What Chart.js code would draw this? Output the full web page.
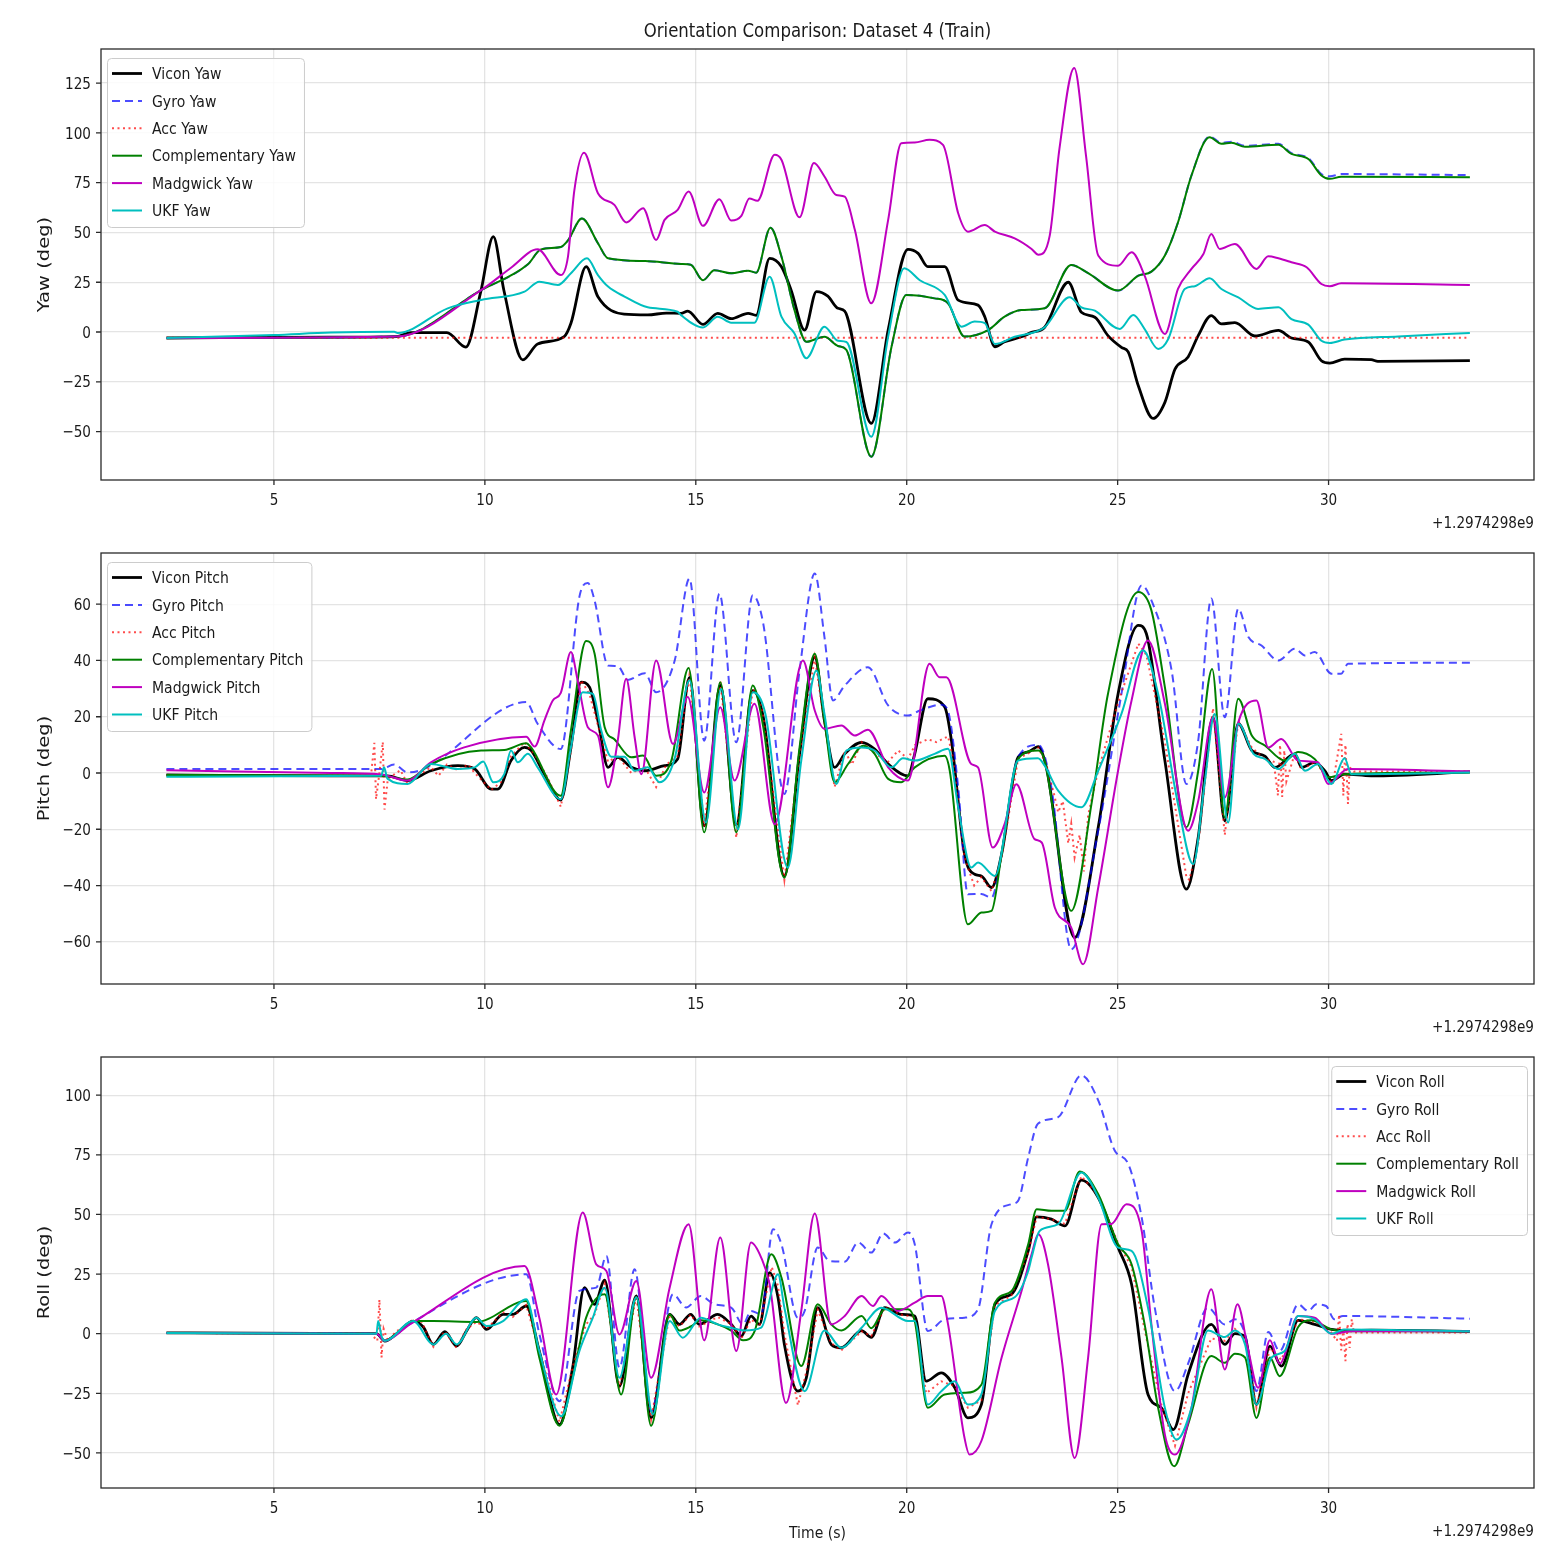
<!DOCTYPE html>
<html>
<head>
<meta charset="utf-8">
<title>Orientation Comparison: Dataset 4 (Train)</title>
<script src="https://cdn.jsdelivr.net/npm/chart.js@4.4.1/dist/chart.umd.min.js"></script>
<style>
  body { margin: 0; background: #fff; width: 1560px; height: 1560px; position: relative; overflow: hidden; }
  canvas { position: absolute; left: 0; }
</style>
</head>
<body>
<canvas id="yawChart" width="1560" height="540" style="top:0px"></canvas>
<canvas id="pitchChart" width="1560" height="540" style="top:504px"></canvas>
<canvas id="rollChart" width="1560" height="540" style="top:1008px"></canvas>
<script>
// axis ticks and labels (time is shown as an offset from 1.2974298e9 s)
const xTicks = [5, 10, 15, 20, 25, 30];
const yawTicks = [-50, -25, 0, 25, 50, 75, 100, 125];
const pitchTicks = [-60, -40, -20, 0, 20, 40, 60];
const rollTicks = [-50, -25, 0, 25, 50, 75, 100];
const timeOffsetLabel = '+1.2974298e9';
const seriesNames = ['Vicon', 'Gyro', 'Acc', 'Complementary', 'Madgwick', 'UKF'];

// ---- Yaw [time, deg]
const yawVicon = [[2.45,-3],[6.3,-2.6],[7.9,-2.3],[8.25,-0.3],[9.1,-0.3],[9.55,-7.6],[9.9,20],[10.2,47.9],[10.45,21],[10.9,-14],[11.25,-6],[11.88,-2.3],[12.04,4.4],[12.4,32.8],[12.68,17.7],[13.3,9],[13.86,8.6],[14.3,9.5],[14.65,9.4],[14.81,10.5],[15.17,3.8],[15.52,9.4],[15.84,6.7],[16.24,9.4],[16.43,8.4],[16.75,37],[17.03,32.8],[17.26,21],[17.58,1],[17.86,20.3],[18.13,18],[18.37,11.9],[18.53,10.5],[19.16,-45.9],[19.56,1],[20.03,41.5],[20.27,39.5],[20.5,32.8],[20.9,32.8],[21.22,16],[21.69,13.5],[21.85,7.7],[22.09,-7.4],[22.32,-4.9],[22.72,-2.4],[22.96,-0.2],[23.27,2.4],[23.83,25],[24.14,9.9],[24.46,7.4],[24.77,-1.8],[25.09,-7.7],[25.25,-10],[25.49,-27],[25.84,-43.4],[26.12,-35.3],[26.36,-18.6],[26.67,-12.5],[26.91,-1.8],[27.22,8.2],[27.46,4.1],[27.78,4.7],[28.25,-2],[28.81,0.8],[29.12,-3],[29.52,-5],[29.83,-14.4],[30.03,-15.6],[30.38,-13.6],[31.01,-13.9],[31.17,-14.7],[33.35,-14.4]];
const yawGyro = [[2.45,-3],[7.9,-2.3],[9.91,21],[11.02,34],[11.33,41.5],[11.8,42.7],[11.97,46],[12.3,57],[12.68,44.6],[12.92,37],[13.8,35.6],[14.65,34.2],[14.88,33.8],[15.17,26],[15.44,31],[15.84,29.5],[16.24,30.8],[16.43,29.8],[16.77,52.4],[17.03,37.9],[17.34,11],[17.62,-4.9],[18.05,-2.4],[18.37,-7],[18.57,-9],[19.16,-62.6],[19.64,-7.4],[19.99,18.6],[20.66,16.9],[20.98,14.4],[21.37,-2.3],[21.93,1],[22.32,7.7],[22.72,11],[23.27,11.9],[23.9,33.7],[24.3,29.6],[25.01,20.8],[25.49,28.3],[25.8,30.3],[26.12,38.4],[26.43,55],[26.75,78.6],[27.18,98.2],[27.46,95],[27.7,95.5],[28.02,93.5],[28.81,94.5],[29.12,89.8],[29.52,87.3],[29.83,79.3],[30.03,78.2],[30.3,79.3],[33.35,78.8]];
const yawAcc = [[2.45,-2.9],[33.35,-2.9]];
const yawComp = [[2.45,-3],[7.9,-2.3],[9.91,21],[11.02,34],[11.33,41.5],[11.8,42.7],[11.97,46],[12.3,57],[12.68,44.6],[12.92,37],[13.8,35.6],[14.65,34.2],[14.88,33.8],[15.17,26],[15.44,31],[15.84,29.5],[16.24,30.8],[16.43,29.8],[16.77,52.4],[17.03,37.9],[17.34,11],[17.62,-4.9],[18.05,-2.4],[18.37,-7],[18.57,-9],[19.16,-62.6],[19.64,-7.4],[19.99,18.6],[20.66,16.9],[20.98,14.4],[21.37,-2.3],[21.93,1],[22.32,7.7],[22.72,11],[23.27,11.9],[23.9,33.7],[24.3,29.6],[25.01,20.8],[25.49,28.3],[25.8,30.3],[26.12,38.4],[26.43,55],[26.75,78.6],[27.18,97.8],[27.46,94.5],[27.7,95],[28.02,93],[28.81,94],[29.12,89.4],[29.52,86.9],[29.83,78.6],[30.03,76.9],[30.3,77.9],[33.35,77.7]];
const yawMadg = [[2.45,-3],[7.9,-2.3],[9.91,21],[10.62,32.3],[11.25,41.5],[11.8,28.6],[11.97,37.9],[12.12,71],[12.35,90],[12.68,69.7],[13.07,63.8],[13.35,55],[13.75,62.2],[14.06,46.2],[14.26,56.3],[14.57,61.3],[14.83,70.5],[15.17,53.3],[15.56,66.7],[15.84,56],[16.08,58.3],[16.27,67.1],[16.46,65.9],[16.87,89],[17.03,86.5],[17.46,57.6],[17.8,84.8],[18.05,78.1],[18.33,68.8],[18.53,68],[18.77,51.3],[19.16,14.4],[19.56,56.3],[19.87,94.8],[20.19,95.2],[20.54,96.5],[20.86,94],[21.22,59.6],[21.45,50.4],[21.85,53.7],[22.09,50.4],[22.56,47],[22.96,41.7],[23.12,38.8],[23.39,48.4],[23.62,92],[23.97,132.5],[24.25,88.6],[24.54,38.4],[25.01,33.3],[25.33,40],[25.64,28.3],[26.12,-1],[26.43,21.6],[26.75,31.7],[27.03,39],[27.22,49.2],[27.42,41.7],[27.78,44.2],[28.29,31.7],[28.57,38],[28.81,37],[29.12,35],[29.48,32.5],[29.83,24.1],[30.03,23],[30.3,24.5],[33.35,23.6]];
const yawUkf = [[2.45,-3],[5,-1.5],[6.35,-0.3],[7.85,0.1],[7.93,-0.5],[9.12,11.9],[9.91,16.1],[10.94,20.3],[11.29,25.3],[11.73,23.6],[12.04,29.5],[12.42,37],[12.68,28.6],[12.92,22.8],[13.31,17.8],[13.86,12.4],[14.57,10.2],[14.65,8.5],[15.17,2.3],[15.52,7.7],[15.84,4.7],[16.39,4.7],[16.75,27.8],[17.03,7.7],[17.34,-0.7],[17.62,-13.2],[18.05,2.7],[18.37,-4.4],[18.57,-5],[19.16,-52.6],[19.56,-2.3],[19.94,32],[20.31,26],[20.9,18.6],[21.3,2.7],[21.61,5.3],[21.85,4.5],[22.09,-6],[22.56,-2.4],[22.96,-0.5],[23.27,2.4],[23.86,17.4],[24.14,12.4],[24.46,10.7],[25.05,1.5],[25.37,8.5],[25.64,1.5],[25.96,-8.5],[26.2,-3.5],[26.59,21.6],[26.83,23],[27.18,27],[27.46,21.6],[27.86,17.4],[28.33,11.6],[28.81,12.4],[29.12,6.5],[29.52,3.7],[29.83,-4.4],[30.03,-5.5],[30.38,-3.8],[31.65,-2.2],[33.35,-0.5]];

// ---- Pitch [time, deg]
const pitchVicon = [[2.45,-0.7],[6.35,-1],[7.69,-1],[8.17,-2.7],[8.72,0.8],[9.36,2.6],[9.76,1.4],[10.15,-5.7],[10.31,-5.7],[10.62,4.4],[10.94,9.1],[11.1,8],[11.41,-0.4],[11.8,-9.6],[12.04,9.1],[12.28,32.3],[12.48,30.5],[12.68,18.6],[12.92,2],[13.15,5.6],[13.47,2],[13.79,0.8],[14.26,2.6],[14.57,5],[14.85,34],[15.2,-18.8],[15.58,31.1],[15.96,-18.4],[16.35,29.3],[16.6,19.8],[17.1,-36.6],[17.46,6.8],[17.82,41.2],[18.05,18.6],[18.29,2],[18.53,6.8],[18.93,10.9],[19.24,8.5],[19.56,3.2],[20.03,-1],[20.19,6.8],[20.5,26.4],[20.9,23.5],[21.06,11.5],[21.37,-28.8],[21.61,-36],[21.77,-36.6],[22.01,-40.7],[22.25,-28.8],[22.64,5.6],[22.88,7.5],[23.12,9.4],[23.31,2],[23.98,-58.5],[24.54,-19.3],[25.01,28.1],[25.49,52.5],[25.68,49.6],[26.12,4.4],[26.63,-41.3],[26.91,-22.9],[27.26,19.8],[27.54,-17],[27.86,17.5],[28.18,8],[28.49,6],[28.73,2],[29.2,6.8],[29.36,2],[29.67,3.8],[29.91,0.8],[30.07,-2.7],[30.38,-0.4],[31.01,-1],[33.35,0.4]];
const pitchGyro = [[2.45,1.4],[7.54,1.4],[7.85,3],[8.17,0.2],[10.98,25.2],[11.25,17.5],[11.8,8.5],[12.24,62.6],[12.44,67.5],[12.6,61.4],[12.92,38.2],[13.15,38],[13.39,33.1],[13.79,35.5],[14.06,28.7],[14.5,40],[14.85,69.1],[15.2,11.5],[15.56,63.7],[15.96,10.9],[16.35,63.2],[16.6,53],[17.1,-7.5],[17.46,36.4],[17.82,70.9],[18.05,48.3],[18.25,25.8],[18.53,31.1],[19.08,37.6],[19.56,24],[20.03,20.4],[20.31,22.2],[20.82,24.3],[20.98,22],[21.22,-5.1],[21.45,-43.1],[21.77,-43],[22.01,-44.3],[22.25,-28.8],[22.64,5.6],[23.12,10],[23.43,-5.1],[23.9,-62.7],[24.54,-20.5],[25.09,28.1],[25.57,66.7],[25.8,61.4],[26.28,36.4],[26.63,-3.9],[26.91,11.5],[27.22,62],[27.54,19.8],[27.86,58.4],[28.1,48.3],[28.41,45.3],[28.81,40],[29.2,44.2],[29.44,41.8],[29.67,43],[30.07,35.3],[30.3,35.3],[30.46,38.8],[33.35,39.2]];
const pitchAcc = [[2.45,-1],[7.3,-1],[7.38,10.7],[7.42,-9.3],[7.5,0],[7.58,11],[7.62,-13],[7.7,-2],[8.0,1],[8.17,-4],[8.4,-1],[8.72,2],[8.9,-1],[9.1,3],[9.36,1],[9.6,3],[9.76,0],[10.15,-6],[10.4,-3],[10.62,6],[10.94,11],[11.2,6],[11.5,-2],[11.8,-12],[12.04,8],[12.28,33],[12.48,28],[12.68,17],[12.92,4],[13.15,6],[13.47,0],[13.79,2],[14.06,-5],[14.3,3],[14.57,6],[14.85,35],[15.2,-19],[15.58,33],[15.96,-23],[16.35,30],[16.5,27],[16.6,20],[17.1,-38],[17.46,6],[17.82,41],[18.05,18],[18.29,-5],[18.53,8],[18.7,3],[18.93,11],[19.24,7],[19.56,4],[19.8,8],[20.03,5],[20.2,10],[20.5,12],[20.7,11],[20.98,13],[21.1,5],[21.37,-30],[21.6,-40],[21.77,-37],[22.01,-42],[22.25,-30],[22.64,5],[22.88,7],[23.12,9],[23.31,3],[23.5,-8],[23.59,-14],[23.7,-10],[23.83,-25],[23.9,-18],[23.98,-30],[24.1,-22],[24.2,-35],[24.3,-15],[24.54,1],[25.01,25],[25.49,46],[25.68,42],[26.12,11],[26.63,-37],[26.7,-38],[26.91,-25],[27.26,23],[27.54,-22],[27.86,18.6],[28.18,9],[28.49,5],[28.7,4],[28.8,-8],[28.85,10],[28.9,-8.5],[28.95,8],[29.0,-3],[29.2,7],[29.36,1],[29.67,4],[29.9,0],[30.1,-4],[30.3,13.9],[30.35,-8],[30.4,10],[30.46,-11],[30.5,2],[30.6,0.5],[33.35,0.5]];
const pitchComp = [[2.45,-0.7],[7.54,-1],[8.17,-2.3],[8.72,3.2],[9.91,8],[10.46,8.2],[10.98,10.6],[11.1,9],[11.8,-8.1],[12.04,15.1],[12.4,46.9],[12.6,42.5],[12.84,16.3],[13.07,12],[13.47,5.6],[13.75,6.2],[14.06,-1],[14.42,4.4],[14.83,37.3],[15.2,-21.1],[15.58,32.3],[15.96,-21.1],[16.35,31.1],[16.6,16.3],[17.1,-37.2],[17.46,9.1],[17.82,42.4],[18.05,18.6],[18.29,-3.3],[18.61,3.2],[18.97,9.7],[19.24,6.8],[19.56,-2.1],[19.87,-3.3],[20.19,2],[20.9,6.1],[21.02,0.8],[21.45,-53.8],[21.77,-49.6],[22.01,-49],[22.25,-28.8],[22.64,5],[23.12,8],[23.27,4.4],[23.9,-49],[24.38,-11],[24.77,28.1],[25.49,64.3],[25.8,57.8],[26.12,30.5],[26.63,-19.3],[26.91,0.8],[27.24,37],[27.54,-15.8],[27.86,26.4],[28.18,13.3],[28.49,9.8],[28.96,4.4],[29.28,7.5],[29.67,5],[29.99,-1.5],[30.38,-0.4],[33.35,0.2]];
const pitchMadg = [[2.45,1],[6.35,0],[7.54,-0.5],[8.17,-2.7],[8.72,3.8],[9.51,9.1],[10.98,12.9],[11.18,9.4],[11.41,18.6],[11.61,25.8],[11.8,28.5],[12.04,43],[12.2,32.9],[12.44,16.3],[12.68,13.3],[12.92,-5.1],[13.15,11.5],[13.35,33.5],[13.55,12.7],[13.71,-0.4],[14.06,40],[14.46,10.3],[14.81,27],[15.2,-6.9],[15.58,23.4],[15.92,-2.7],[16.39,24.6],[16.87,-18.2],[17.54,40],[17.82,22.2],[18.05,15.7],[18.45,16.9],[18.77,13.3],[19.08,15.4],[19.56,2],[20.03,-2.7],[20.54,38.8],[20.78,34],[20.94,34],[21.53,3.2],[21.69,2],[22.04,-26.5],[22.32,-18.2],[22.6,-4],[23.03,-23.5],[23.2,-24.7],[23.51,-47.8],[23.9,-55],[24.18,-68],[24.54,-40.7],[25.01,0.8],[25.33,25.8],[25.72,47.1],[26.12,24.6],[26.67,-20.5],[26.91,-10],[27.26,19.8],[27.54,-8.7],[27.86,18],[28.29,25.8],[28.57,9.1],[28.88,12.1],[29.28,4.4],[29.75,3.8],[29.99,-3.9],[30.46,1.4],[33.35,0.6]];
const pitchUkf = [[2.45,-1.3],[7.54,-1],[7.61,2],[7.69,-2],[8.17,-3.9],[8.72,3.2],[9.36,1.4],[9.76,2],[9.96,4.1],[10.2,-3.3],[10.46,-0.4],[10.62,8],[10.78,3.8],[11.02,6.8],[11.25,2],[11.8,-9.3],[12.04,9.1],[12.32,28.7],[12.56,28.1],[12.76,15],[13,5.8],[13.31,5.8],[13.55,0.8],[13.86,2],[14.14,-3.3],[14.5,5.2],[14.85,33],[15.24,-17.6],[15.6,29.9],[16,-20],[16.35,28.7],[16.65,21],[17.18,-33.6],[17.5,4.4],[17.86,36.4],[18.05,21],[18.33,-3.9],[18.57,8],[18.93,9.1],[19.24,8],[19.64,2],[19.91,5.2],[20.19,4.4],[20.66,6.8],[20.98,8.6],[21.22,-12.2],[21.53,-33.6],[21.69,-31.8],[22.09,-36.6],[22.64,4.4],[23.11,5.2],[23.27,2.6],[23.59,-6.3],[24.14,-12.2],[24.54,0.8],[25.09,21],[25.6,43.6],[25.96,28.1],[26.43,-11],[26.79,-32.4],[27.06,-3.9],[27.3,21],[27.62,-17.6],[27.86,17.5],[28.22,6.8],[28.49,5],[28.81,1.4],[29.2,6.8],[29.44,0.8],[29.75,3.2],[30.07,-3.9],[30.38,5.2],[30.54,-0.4],[33.35,0.2]];

// ---- Roll [time, deg]
const rollVicon = [[2.45,0.3],[7.43,0],[7.63,-3.1],[7.91,0],[8.3,5.3],[8.54,2.8],[8.78,-4.5],[9.05,0.8],[9.33,-5.2],[9.57,1.3],[9.8,6.7],[10.04,1.8],[10.43,8.1],[10.66,8.1],[10.98,11.6],[11.29,-7.3],[11.77,-38.1],[12.08,-14.3],[12.36,19.3],[12.6,12.3],[12.84,22.4],[13.19,-22],[13.59,15.8],[13.94,-35.3],[14.38,8.1],[14.61,3.9],[14.88,8.1],[15.08,3.9],[15.52,8.1],[15.84,3.9],[16.08,-1],[16.31,7.4],[16.51,3.9],[16.75,25.6],[16.95,15.1],[17.1,-4.5],[17.42,-24.1],[17.62,-18.5],[17.89,10.9],[18.21,-4.5],[18.45,-5.9],[18.93,1.3],[19.16,-1.5],[19.48,10.9],[19.87,8.1],[20.19,7.4],[20.46,-19.9],[20.82,-16.4],[21.14,-22.7],[21.45,-35.3],[21.77,-29.7],[22.09,12.3],[22.48,16.5],[22.88,34.7],[23.08,49],[23.43,48],[23.75,45.2],[24.14,64.4],[24.54,57.1],[25.01,36.1],[25.33,20.7],[25.72,-25.5],[26.04,-31.1],[26.32,-40.2],[26.67,-17.1],[27.22,3.9],[27.54,-4.5],[27.78,0],[28.02,-1.4],[28.29,-29.7],[28.61,-5.2],[28.88,-13.6],[29.28,5.6],[29.67,3.9],[30.07,1.8],[30.54,1.3],[31.01,1.5],[33.35,1]];
const rollGyro = [[2.45,0.3],[7.43,0],[7.63,-3],[7.91,0],[8.3,5],[10.98,24.9],[11.29,0],[11.77,-28.3],[12.24,17.9],[12.64,19.3],[12.88,32.6],[13.19,-14.3],[13.55,27],[13.94,-32.5],[14.46,16.5],[14.77,11],[15.12,15.8],[15.44,12.3],[15.84,10.9],[16.12,3.9],[16.31,9.5],[16.55,8.1],[16.83,43.8],[17.03,37.5],[17.42,6.7],[17.58,9.5],[17.89,36.1],[18.17,30.5],[18.53,30.2],[18.85,38.2],[19.16,34],[19.44,42],[19.72,38.2],[20.03,42.4],[20.19,37.5],[20.5,1.1],[20.9,6],[21.37,6.7],[21.69,10.2],[22.01,45.9],[22.48,54.3],[22.64,55.7],[22.88,73.9],[23.11,88],[23.59,90.8],[24.14,108.3],[24.54,97.8],[24.93,76.8],[25.25,71.2],[25.57,48.7],[25.88,10.9],[26.36,-24.1],[26.67,-12.6],[27.14,10.9],[27.54,3.9],[27.78,6],[28.02,0],[28.29,-24.1],[28.57,0.7],[28.84,-7.3],[29.28,12.3],[29.52,9.5],[29.71,12.3],[29.94,11.6],[30.14,6],[30.34,7.4],[33.35,6.3]];
const rollAcc = [[2.45,0.3],[7.3,0],[7.45,-3],[7.5,14.3],[7.55,-10],[7.6,2],[7.7,-3],[7.9,1],[8.1,3],[8.3,6],[8.5,5],[8.78,-5.5],[9.05,1],[9.33,-6],[9.57,2],[9.8,5],[10.04,2],[10.43,9],[10.66,7],[10.98,12],[11.29,-7],[11.77,-37],[12.08,-14],[12.2,-7],[12.4,4],[12.6,8],[12.84,21],[13.19,-23],[13.59,16],[13.94,-36],[14.38,8],[14.61,3],[14.88,8],[15.08,3],[15.52,7],[15.84,4],[16.08,-2],[16.31,6],[16.51,3],[16.8,28],[16.95,20],[17.1,0],[17.42,-30],[17.62,-16],[17.89,10],[18.21,-4],[18.45,-7],[18.93,1],[19.16,-1],[19.48,11],[19.87,8],[20.19,7],[20.46,-25],[20.82,-20],[21.14,-22],[21.45,-31],[21.77,-28],[22.09,12],[22.48,16],[22.88,34],[23.08,49],[23.43,48],[23.75,46],[24.14,66],[24.54,58],[25.01,38],[25.33,28],[25.72,-5],[26.04,-30],[26.36,-47],[26.67,-25],[27.22,-2],[27.54,-3],[27.78,2],[28.02,-2],[28.29,-31],[28.61,-6],[28.88,-11],[29.28,6],[29.67,5],[30.0,2],[30.2,-3],[30.25,8],[30.3,-7],[30.35,2],[30.4,-11.5],[30.45,4],[30.5,-6],[30.55,6],[30.6,0.5],[33.35,0.5]];
const rollComp = [[2.45,0.3],[7.43,0],[7.63,-3],[7.91,0],[8.3,5.3],[8.78,5.3],[9.8,4.9],[10.98,13.7],[11.29,-10],[11.77,-38.6],[12.08,-18.5],[12.4,6.7],[12.84,16.5],[13.23,-25.5],[13.59,15.3],[13.94,-38.6],[14.38,8.1],[14.61,1.3],[14.88,3],[15.12,5.6],[15.52,3.9],[15.84,1.3],[16.12,-2.8],[16.4,1.3],[16.79,33.3],[17.03,23.5],[17.5,-13.6],[17.89,12.3],[18.21,3.9],[18.45,1.3],[18.93,7.4],[19.16,2.3],[19.48,10.2],[20.03,10.2],[20.19,5.3],[20.5,-31.1],[20.9,-25.5],[21.37,-24.8],[21.77,-21.4],[22.09,13],[22.48,17.8],[22.88,37.5],[23.08,52.2],[23.43,51.5],[23.75,51.5],[24.1,68],[24.54,58.5],[25.01,37.5],[25.33,29.1],[25.64,3.9],[25.96,-31.1],[26.34,-55.6],[26.67,-38.1],[27.22,-9.4],[27.54,-12.2],[27.78,-8.4],[28.02,-10],[28.29,-35.3],[28.61,-10],[28.84,-17.8],[29.28,2.8],[29.59,5.6],[30.07,1.8],[30.54,1],[33.35,1]];
const rollMadg = [[2.45,0.3],[7.43,0],[7.63,-3],[8.22,3.9],[10.94,28.4],[11.29,6.7],[11.69,-25.5],[12.32,50.8],[12.64,29.1],[12.88,26.3],[13.19,-0.3],[13.59,22.1],[13.94,-18.5],[14.38,19.3],[14.83,45.9],[15.2,-2.8],[15.58,40.3],[15.96,-7.3],[16.31,38.2],[16.55,31.9],[16.75,20.7],[17.14,-29],[17.5,9.5],[17.82,50.4],[18.21,3.9],[18.53,7.4],[18.93,15.8],[19.2,11.6],[19.4,15.8],[19.79,9.5],[20.19,13],[20.5,15.8],[20.82,15.8],[20.98,3.9],[21.37,-43.7],[21.49,-50.7],[21.77,-45],[22.25,-10],[22.72,17.8],[22.96,33.3],[23.12,41.7],[23.35,29],[23.67,-10],[23.98,-52.1],[24.3,-10],[24.62,45.9],[24.85,46],[25.21,54.3],[25.57,43.1],[25.8,3.9],[26.12,-42.3],[26.36,-50.7],[26.75,-31.1],[27.22,18.6],[27.54,-15],[27.84,12.3],[28.1,-7.3],[28.33,-22.7],[28.61,-2.8],[28.84,-12.6],[29.28,7.4],[29.67,6.7],[30.07,0],[30.54,1],[33.35,1]];
const rollUkf = [[2.45,0.3],[7.43,0],[7.47,5.3],[7.55,-1],[7.63,-3],[8.3,5.3],[8.78,-4.5],[9.08,0],[9.33,-4.5],[9.8,6.7],[10.04,3.2],[10.43,5.3],[10.98,14.4],[11.29,-7.3],[11.81,-34.6],[12.24,-7.3],[12.56,6.7],[12.84,19.3],[13.19,-18.5],[13.59,15.3],[13.98,-33.9],[14.38,5.3],[14.69,-1.7],[15.12,6.7],[15.52,3.9],[15.84,2.5],[16.15,1.3],[16.55,2.5],[16.95,24.9],[17.1,10.9],[17.58,-24.1],[18.05,1.3],[18.45,-5.9],[18.93,2.5],[19.4,10.9],[20.03,5.3],[20.19,5.3],[20.5,-29.7],[20.82,-24.1],[21.14,-19.9],[21.45,-29.7],[21.77,-25.5],[22.09,9.5],[22.56,15.3],[22.88,26.3],[22.96,31.9],[23.15,43.1],[23.59,45.9],[24.14,67.6],[24.54,57.1],[25.01,36.1],[25.33,34.7],[25.72,10.9],[26.12,-31.1],[26.4,-44.4],[26.75,-31.1],[27.14,1.3],[27.54,-1.4],[27.78,1.3],[28.02,-4.5],[28.29,-29.7],[28.65,-10],[28.96,-7.3],[29.28,7.4],[29.67,6],[30.07,0],[30.38,1.8],[33.35,1]];

// line styles, same order as seriesNames
const seriesColors = ['#000000', 'rgba(0,0,255,0.7)', 'rgba(255,0,0,0.7)', '#008000', '#bf00bf', '#00bfbf'];
const seriesWidths = [2.8, 2, 2, 2, 2, 2];
const seriesDashes = [[], [8, 5], [2, 3.5], [], [], []];

const squeeze = 0.85;
const fontFamily = '"DejaVu Sans", sans-serif';

function toXY(pairs) {
    return pairs.map(p => ({ x: p[0], y: p[1] }));
}

function fmtTick(v) {
    return v < 0 ? '\u2212' + Math.abs(v) : String(v);
}

function drawText(ctx, text, x, y, size, align, rotate) {
    ctx.save();
    ctx.font = size + 'px ' + fontFamily;
    ctx.fillStyle = '#1a1a1a';
    ctx.textAlign = align;
    ctx.textBaseline = 'middle';
    if (rotate) {
        ctx.translate(x, y);
        ctx.rotate(-Math.PI / 2);
        ctx.scale(1, squeeze);
    } else {
        // canvas 'middle' sits a little high compared with the reference
        ctx.translate(x, y + 1.5);
        ctx.scale(squeeze, 1);
    }
    ctx.fillText(text, 0, 0);
    ctx.restore();
}

function drawLegend(chart, side) {
    const ctx = chart.ctx;
    const area = chart.chartArea;
    const sets = chart.data.datasets;
    ctx.save();
    ctx.font = '16.5px ' + fontFamily;
    const textW = Math.max(...sets.map(d => ctx.measureText(d.label).width)) * squeeze;
    const boxW = 45 + textW + 8;
    const boxH = 169;
    const x0 = side === 'left' ? area.left + 6 : area.right - 7 - boxW;
    const y0 = area.top + 9;
    ctx.fillStyle = 'rgba(255,255,255,0.85)';
    ctx.strokeStyle = 'rgba(204,204,204,1)';
    ctx.lineWidth = 1;
    ctx.beginPath();
    ctx.roundRect(x0 + 0.5, y0 + 0.5, boxW, boxH, 4);
    ctx.fill();
    ctx.stroke();
    sets.forEach((d, i) => {
        const y = y0 + 15.5 + i * 27.4;
        ctx.save();
        ctx.strokeStyle = d.borderColor;
        ctx.lineWidth = d.borderWidth;
        ctx.setLineDash(d.borderDash);
        ctx.beginPath();
        ctx.moveTo(x0 + 5, y);
        ctx.lineTo(x0 + 35, y);
        ctx.stroke();
        ctx.restore();
        drawText(ctx, d.label, x0 + 45, y, 16.5, 'left');
    });
    ctx.restore();
}

// frame, tick marks, labels and legend in matplotlib style
const panelDecor = {
    id: 'panelDecor',
    afterDraw(chart, args, opts) {
        const ctx = chart.ctx;
        const area = chart.chartArea;
        const xs = chart.scales.x;
        const ys = chart.scales.y;
        ctx.save();
        ctx.strokeStyle = '#2a2a2a';
        ctx.lineWidth = 1.3;
        ctx.strokeRect(area.left, area.top, area.right - area.left, area.bottom - area.top);
        ctx.beginPath();
        xTicks.forEach(v => {
            const px = xs.getPixelForValue(v);
            ctx.moveTo(px, area.bottom);
            ctx.lineTo(px, area.bottom + 5);
        });
        opts.yTicks.forEach(v => {
            const py = ys.getPixelForValue(v);
            ctx.moveTo(area.left - 5, py);
            ctx.lineTo(area.left, py);
        });
        ctx.stroke();
        ctx.restore();

        xTicks.forEach(v => drawText(ctx, String(v), xs.getPixelForValue(v), area.bottom + 19, 16, 'center'));
        opts.yTicks.forEach(v => drawText(ctx, fmtTick(v), area.left - 10, ys.getPixelForValue(v), 16, 'right'));
        drawText(ctx, timeOffsetLabel, area.right, area.bottom + 42, 16, 'right');
        drawText(ctx, opts.yLabel, 45, (area.top + area.bottom) / 2, 19.5, 'center', true);
        if (opts.title) drawText(ctx, opts.title, (area.left + area.right) / 2, 30, 19.5, 'center');
        if (opts.xLabel) drawText(ctx, opts.xLabel, (area.left + area.right) / 2, area.bottom + 44, 16.5, 'center');
        drawLegend(chart, opts.legendSide);
    }
};

const gridStyle = { color: 'rgba(176,176,176,0.34)', lineWidth: 1.3, drawTicks: false };

function buildPanel(canvasId, axisName, series, yMin, yMax, yTicks, extra) {
    const datasets = series.map((pairs, i) => ({
        label: seriesNames[i] + ' ' + axisName,
        data: toXY(pairs),
        borderColor: seriesColors[i],
        borderWidth: seriesWidths[i],
        borderDash: seriesDashes[i],
        pointRadius: 0,
        fill: false,
        tension: 0,
        cubicInterpolationMode: i === 2 ? 'default' : 'monotone',
        order: 6 - i
    }));

    new Chart(document.getElementById(canvasId), {
        type: 'line',
        data: { datasets: datasets },
        options: {
            responsive: false,
            animation: false,
            events: [],
            layout: { padding: { left: 0, right: 26, top: 49, bottom: 20 } },
            plugins: {
                legend: { display: false },
                tooltip: { enabled: false },
                panelDecor: Object.assign({ yTicks: yTicks, yLabel: axisName + ' (deg)' }, extra)
            },
            scales: {
                x: {
                    type: 'linear',
                    min: 0.9,
                    max: 34.87,
                    afterBuildTicks: s => { s.ticks = xTicks.map(v => ({ value: v })); },
                    afterFit: s => { s.height = 40; },
                    ticks: { display: false },
                    grid: gridStyle,
                    border: { display: false }
                },
                y: {
                    type: 'linear',
                    min: yMin,
                    max: yMax,
                    afterBuildTicks: s => { s.ticks = yTicks.map(v => ({ value: v })); },
                    afterFit: s => { s.width = 101; },
                    ticks: { display: false },
                    grid: gridStyle,
                    border: { display: false }
                }
            }
        },
        plugins: [panelDecor]
    });
}

buildPanel('yawChart', 'Yaw', [yawVicon, yawGyro, yawAcc, yawComp, yawMadg, yawUkf],
    -74.3, 142.1, yawTicks, { legendSide: 'left', title: 'Orientation Comparison: Dataset 4 (Train)' });
buildPanel('pitchChart', 'Pitch', [pitchVicon, pitchGyro, pitchAcc, pitchComp, pitchMadg, pitchUkf],
    -75.0, 78.2, pitchTicks, { legendSide: 'left' });
buildPanel('rollChart', 'Roll', [rollVicon, rollGyro, rollAcc, rollComp, rollMadg, rollUkf],
    -64.7, 116.0, rollTicks, { legendSide: 'right', xLabel: 'Time (s)' });
</script>
</body>
</html>
